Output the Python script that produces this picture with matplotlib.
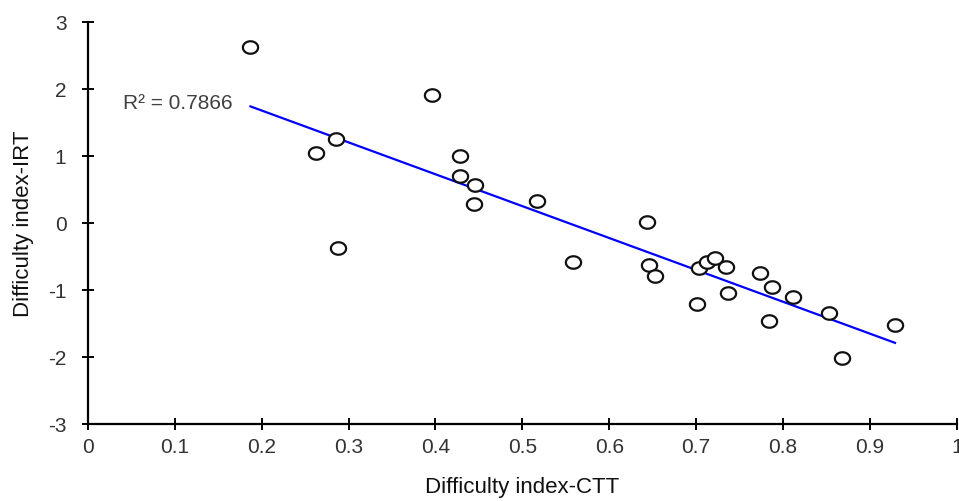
import numpy as np
import matplotlib
matplotlib.use("Agg")
import matplotlib.pyplot as plt
from matplotlib.path import Path

plt.rcParams['font.family'] = ['Liberation Sans', 'DejaVu Sans']
plt.rcParams['axes.unicode_minus'] = False

# Item difficulty: classical test theory (x) vs item response theory (y)
ctt = [0.187, 0.396, 0.285, 0.262, 0.428, 0.428, 0.446, 0.444, 0.517, 0.288,
       0.558, 0.643, 0.646, 0.653, 0.703, 0.712, 0.722, 0.734, 0.701, 0.737,
       0.774, 0.787, 0.784, 0.812, 0.853, 0.868, 0.929]
irt = [2.62, 1.91, 1.26, 1.04, 1.00, 0.70, 0.56, 0.28, 0.33, -0.38,
       -0.59, 0.01, -0.63, -0.79, -0.67, -0.59, -0.53, -0.65, -1.21, -1.05,
       -0.75, -0.96, -1.46, -1.11, -1.34, -2.01, -1.52]
r2_label = "R² = 0.7866"
x_ticks = [0, 0.1, 0.2, 0.3, 0.4, 0.5, 0.6, 0.7, 0.8, 0.9, 1]
x_tick_labels = ["0", "0.1", "0.2", "0.3", "0.4", "0.5", "0.6", "0.7", "0.8", "0.9", "1"]
y_ticks = [-3, -2, -1, 0, 1, 2, 3]

x = np.array(ctt)
y = np.array(irt)

fig = plt.figure(figsize=(9.59, 5.02), dpi=100)
ax = fig.add_axes([88/959, 77/502, (956.7-88)/959, (425-22.9)/502])

# slightly flattened open circle marker
t = np.linspace(0, 2*np.pi, 60)
ellipse = Path(np.column_stack([np.cos(t), 0.82*np.sin(t)]), closed=True)

ax.scatter(x, y, marker=ellipse, s=120, facecolors='white', edgecolors='#111111',
           linewidths=1.6, zorder=3)

# linear trend line
slope, intercept = np.polyfit(x, y, 1)
xs = np.array([x.min(), x.max()])
ax.plot(xs, slope*xs + intercept, color='#0000ff', lw=1.6, zorder=2)

ax.text(0.040, 1.79, r2_label, ha='left', va='center', fontsize=15, color='#404040')

ax.set_xlim(0, 1)
ax.set_ylim(-3, 3)
ax.set_xticks(x_ticks)
ax.set_xticklabels(x_tick_labels)
ax.set_yticks(y_ticks)

for s in ['top', 'right']:
    ax.spines[s].set_visible(False)
for s in ['left', 'bottom']:
    ax.spines[s].set_linewidth(1.6)
    ax.spines[s].set_color('black')

ax.tick_params(axis='both', direction='inout', length=9, width=1.4, colors='black',
               labelcolor='#333333', labelsize=15)
ax.tick_params(axis='x', pad=5)
ax.tick_params(axis='y', pad=11)

ax.set_xlabel("Difficulty index-CTT", fontsize=16, color='#111111', labelpad=14)
ax.set_ylabel("Difficulty index-IRT", fontsize=16, color='#111111', labelpad=10)

fig.savefig("out.png", dpi=100)
